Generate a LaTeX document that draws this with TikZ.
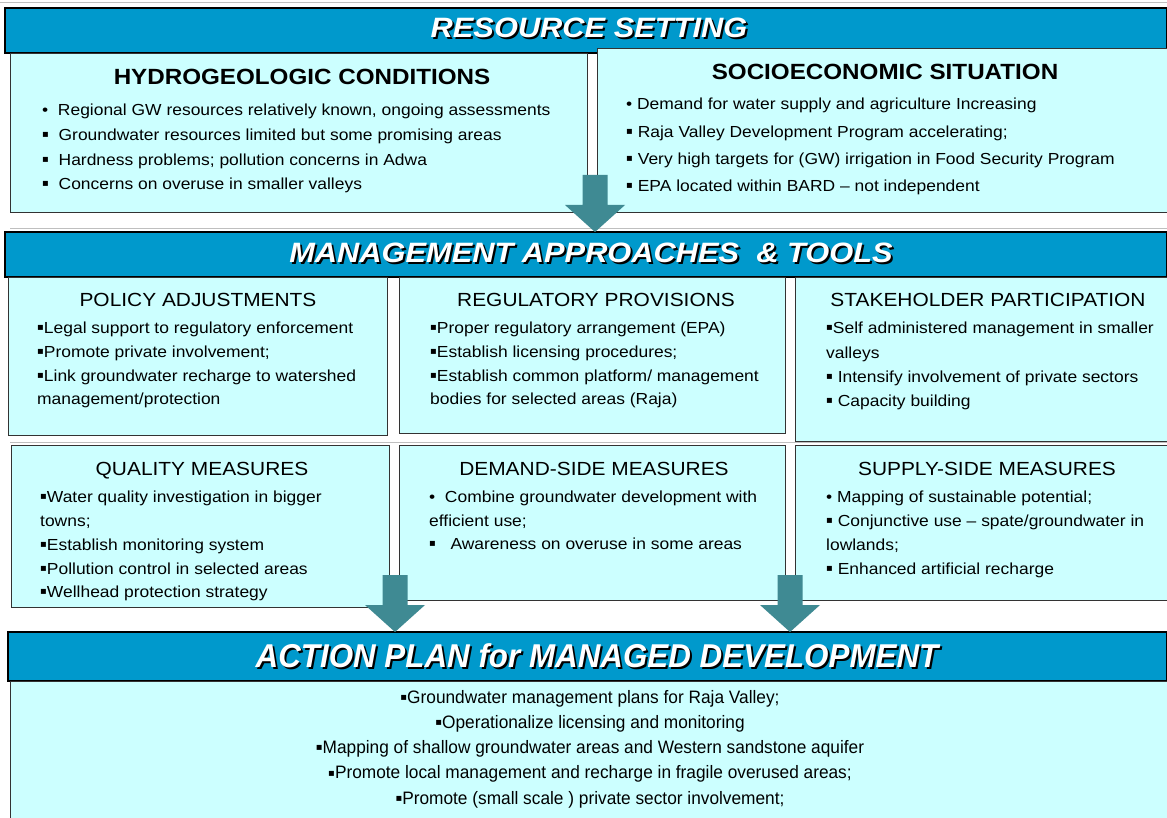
\documentclass[tikz,border=0pt]{standalone}
\usepackage{fontspec}
\setmainfont{Liberation Sans}
\newfontfamily\bodyf{Liberation Sans}[FakeStretch=1.09]
\newfontfamily\ttlf{Liberation Sans}[FakeStretch=1.1]
\newfontfamily\hdrf{Liberation Sans}[FakeStretch=1.1]
\newfontfamily\hdrnf{Liberation Sans}[FakeStretch=0.95]
\newfontfamily\actf{Liberation Sans}[FakeStretch=0.96]
\newfontfamily\symf{DejaVu Sans}
\newcommand\mysq{{\raisebox{3pt}{\symf\fontsize{10}{10}\selectfont ▪}}}
\definecolor{hdrc}{HTML}{0099CC}
\definecolor{boxc}{HTML}{CCFFFF}
\definecolor{arrc}{HTML}{3F8A93}
\definecolor{edgec}{HTML}{333333}
\begin{document}
\begin{tikzpicture}[x=1pt,y=-1pt,
  box/.style={draw=edgec, line width=0.9pt, fill=boxc, anchor=north west, inner sep=0pt, outer sep=0pt},
  hdr/.style={draw=black, line width=1.8pt, fill=hdrc, anchor=north west, inner sep=0pt, outer sep=0pt},
  sz/.style 2 args={minimum width=#1pt, minimum height=#2pt},
  htxt/.style={font=\hdrf\bfseries\itshape\fontsize{28}{30}\selectfont, anchor=base, inner sep=0pt},
  atxt/.style={font=\hdrnf\bfseries\itshape\fontsize{33}{35}\selectfont, anchor=base, inner sep=0pt},
  bigttl/.style={font=\ttlf\bfseries\fontsize{22}{24}\selectfont, anchor=base, inner sep=0pt},
  ttl/.style={font=\ttlf\fontsize{19}{21}\selectfont, anchor=base, inner sep=0pt},
  body/.style={font=\bodyf\fontsize{16}{#1}\selectfont, align=left, anchor=north west, inner sep=0pt},
  body/.default=24,
  acttxt/.style={font=\actf\fontsize{18}{25.25}\selectfont, align=center, anchor=north, inner sep=0pt},
  sep/.style={draw=black!25, line width=0.8pt},
  pics/blockarrow/.style={code={\fill[arrc] (-12.5,-57) -- (12.5,-57) -- (12.5,-27) -- (30,-27) -- (0,0) -- (-30,-27) -- (-12.5,-27) -- cycle;}}
]
\useasboundingbox (0,0) rectangle (1167,818);
\fill[white] (0,0) rectangle (1167,818);
% faint group lines
\draw[sep] (0,2) -- (1167,2);
\draw[sep] (10,228) -- (1167,228);
\draw[sep] (10,442) -- (1167,442);

% ---------- RESOURCE SETTING ----------
\node[hdr, sz={1162}{45}] (hdr1) at (5,8) {};
\node[htxt, text=black] (hdr1s) at (591,40) {RESOURCE SETTING};
\node[htxt, text=white] (hdr1t) at (589,38) {RESOURCE SETTING};

\node[box, sz={577}{159}] (hyd) at (10,53) {};
\node[box, sz={572}{164}] (soc) at (597,48) {};

\node[bigttl] (hydt) at (302,85) {HYDROGEOLOGIC CONDITIONS};
\node[body=24.7] (hydb) at (42,104) {• \ Regional GW resources relatively known, ongoing assessments\\
\mysq\ \ Groundwater resources limited but some promising areas\\
\mysq\ \ Hardness problems; pollution concerns in Adwa\\
\mysq\ \ Concerns on overuse in smaller valleys};

\node[bigttl] (soct) at (885,80) {SOCIOECONOMIC SITUATION};
\node[body=27.3] (socb) at (626,98) {• Demand for water supply and agriculture Increasing\\
\mysq\ Raja Valley Development Program accelerating;\\
\mysq\ Very high targets for (GW) irrigation in Food Security Program\\
\mysq\ EPA located within BARD – not independent};

% ---------- MANAGEMENT APPROACHES ----------
\node[hdr, sz={1162}{45}] (hdr2) at (5,232) {};
\node[htxt, text=black] (hdr2s) at (593,265) {MANAGEMENT APPROACHES \ \& TOOLS};
\node[htxt, text=white] (hdr2t) at (591,263) {MANAGEMENT APPROACHES \ \& TOOLS};

\node[box, sz={379}{158}] (pol) at (8,277) {};
\node[box, sz={386}{156}] (reg) at (399,277) {};
\node[box, sz={372}{164}] (stk) at (795,277) {};

\node[ttl] (polt) at (198,307) {POLICY ADJUSTMENTS};
\node[body=23.7] (polb) at (37,322) {\mysq Legal support to regulatory enforcement\\
\mysq Promote private involvement;\\
\mysq Link groundwater recharge to watershed\\
management/protection};

\node[ttl] (regt) at (596,307) {REGULATORY PROVISIONS};
\node[body=23.7] (regb) at (430,322) {\mysq Proper regulatory arrangement (EPA)\\
\mysq Establish licensing procedures;\\
\mysq Establish common platform/ management\\
bodies for selected areas (Raja)};

\node[ttl] (stkt) at (988,307) {STAKEHOLDER PARTICIPATION};
\node[body=24.3] (stkb) at (826,322) {\mysq Self administered management in smaller\\
valleys\\
\mysq\ Intensify involvement of private sectors\\
\mysq\ Capacity building};

\node[box, sz={378}{162}] (qua) at (11,445) {};
\node[box, sz={386}{155}] (dem) at (399,445) {};
\node[box, sz={372}{155}] (sup) at (795,445) {};

\node[ttl] (quat) at (202,475) {QUALITY MEASURES};
\node[body=23.75] (quab) at (40,491) {\mysq Water quality investigation in bigger\\
towns;\\
\mysq Establish monitoring system\\
\mysq Pollution control in selected areas\\
\mysq Wellhead protection strategy};

\node[ttl] (demt) at (594,475) {DEMAND-SIDE MEASURES};
\node[body=23.5] (demb) at (429,491) {• \ Combine groundwater development with\\
efficient use;\\
\mysq\ \ \ Awareness on overuse in some areas};

\node[ttl] (supt) at (987,475) {SUPPLY-SIDE MEASURES};
\node[body=24] (supb) at (826,491) {• Mapping of sustainable potential;\\
\mysq\ Conjunctive use – spate/groundwater in\\
lowlands;\\
\mysq\ Enhanced artificial recharge};

% ---------- ACTION PLAN ----------
\node[hdr, sz={1159}{49}] (hdr3) at (8,632) {};
\node[box, sz={1157}{140}] (act) at (10,681) {};
\node[atxt, text=black] (hdr3s) at (599,669) {ACTION PLAN for MANAGED DEVELOPMENT};
\node[atxt, text=white] (hdr3t) at (597,667) {ACTION PLAN for MANAGED DEVELOPMENT};
\node[acttxt] (actb) at (590,690) {\mysq Groundwater management plans for Raja Valley;\\
\mysq Operationalize licensing and monitoring\\
\mysq Mapping of shallow groundwater areas and Western sandstone aquifer\\
\mysq Promote local management and recharge in fragile overused areas;\\
\mysq Promote (small scale ) private sector involvement;};

% ---------- arrows ----------
\coordinate (a1) at (hdr2.north -| 595,0);
\coordinate (a2) at (hdr3.north -| 395,0);
\coordinate (a3) at (hdr3.north -| 790,0);
\pic at (a1) {blockarrow};
\pic at (a2) {blockarrow};
\pic at (a3) {blockarrow};
\end{tikzpicture}
\end{document}
